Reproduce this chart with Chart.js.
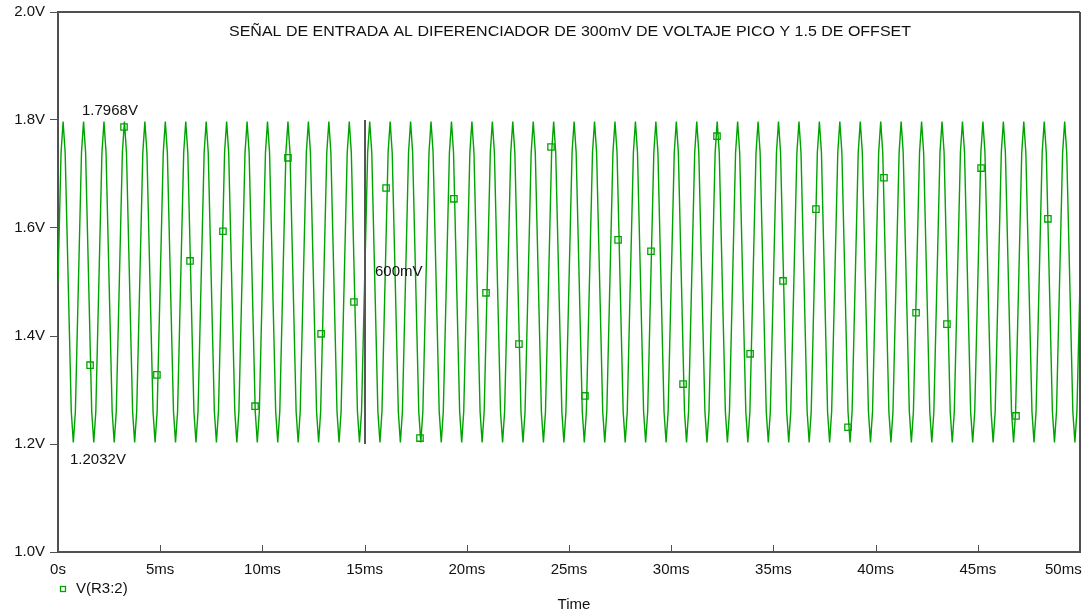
<!DOCTYPE html>
<html>
<head>
<meta charset="utf-8">
<script src="https://cdn.jsdelivr.net/npm/chart.js@4"></script>
<style>
  html, body { margin: 0; padding: 0; background: #fff; }
  #chart { display: block; }
</style>
</head>
<body>
<canvas id="chart" width="1086" height="613"></canvas>
<script>
// trace vertices (time in ms, volts)
const traceTime = [
  0,
  0.15, 0.25, 0.35, 0.65, 0.75, 0.85,
  1.15, 1.25, 1.35, 1.65, 1.75, 1.85,
  2.15, 2.25, 2.35, 2.65, 2.75, 2.85,
  3.15, 3.25, 3.35, 3.65, 3.75, 3.85,
  4.15, 4.25, 4.35, 4.65, 4.75, 4.85,
  5.15, 5.25, 5.35, 5.65, 5.75, 5.85,
  6.15, 6.25, 6.35, 6.65, 6.75, 6.85,
  7.15, 7.25, 7.35, 7.65, 7.75, 7.85,
  8.15, 8.25, 8.35, 8.65, 8.75, 8.85,
  9.15, 9.25, 9.35, 9.65, 9.75, 9.85,
  10.15, 10.25, 10.35, 10.65, 10.75, 10.85,
  11.15, 11.25, 11.35, 11.65, 11.75, 11.85,
  12.15, 12.25, 12.35, 12.65, 12.75, 12.85,
  13.15, 13.25, 13.35, 13.65, 13.75, 13.85,
  14.15, 14.25, 14.35, 14.65, 14.75, 14.85,
  15.15, 15.25, 15.35, 15.65, 15.75, 15.85,
  16.15, 16.25, 16.35, 16.65, 16.75, 16.85,
  17.15, 17.25, 17.35, 17.65, 17.75, 17.85,
  18.15, 18.25, 18.35, 18.65, 18.75, 18.85,
  19.15, 19.25, 19.35, 19.65, 19.75, 19.85,
  20.15, 20.25, 20.35, 20.65, 20.75, 20.85,
  21.15, 21.25, 21.35, 21.65, 21.75, 21.85,
  22.15, 22.25, 22.35, 22.65, 22.75, 22.85,
  23.15, 23.25, 23.35, 23.65, 23.75, 23.85,
  24.15, 24.25, 24.35, 24.65, 24.75, 24.85,
  25.15, 25.25, 25.35, 25.65, 25.75, 25.85,
  26.15, 26.25, 26.35, 26.65, 26.75, 26.85,
  27.15, 27.25, 27.35, 27.65, 27.75, 27.85,
  28.15, 28.25, 28.35, 28.65, 28.75, 28.85,
  29.15, 29.25, 29.35, 29.65, 29.75, 29.85,
  30.15, 30.25, 30.35, 30.65, 30.75, 30.85,
  31.15, 31.25, 31.35, 31.65, 31.75, 31.85,
  32.15, 32.25, 32.35, 32.65, 32.75, 32.85,
  33.15, 33.25, 33.35, 33.65, 33.75, 33.85,
  34.15, 34.25, 34.35, 34.65, 34.75, 34.85,
  35.15, 35.25, 35.35, 35.65, 35.75, 35.85,
  36.15, 36.25, 36.35, 36.65, 36.75, 36.85,
  37.15, 37.25, 37.35, 37.65, 37.75, 37.85,
  38.15, 38.25, 38.35, 38.65, 38.75, 38.85,
  39.15, 39.25, 39.35, 39.65, 39.75, 39.85,
  40.15, 40.25, 40.35, 40.65, 40.75, 40.85,
  41.15, 41.25, 41.35, 41.65, 41.75, 41.85,
  42.15, 42.25, 42.35, 42.65, 42.75, 42.85,
  43.15, 43.25, 43.35, 43.65, 43.75, 43.85,
  44.15, 44.25, 44.35, 44.65, 44.75, 44.85,
  45.15, 45.25, 45.35, 45.65, 45.75, 45.85,
  46.15, 46.25, 46.35, 46.65, 46.75, 46.85,
  47.15, 47.25, 47.35, 47.65, 47.75, 47.85,
  48.15, 48.25, 48.35, 48.65, 48.75, 48.85,
  49.15, 49.25, 49.35, 49.65, 49.75, 49.85,
  50
];
const traceVolt = [
  1.5,
  1.74, 1.797, 1.74, 1.26, 1.203, 1.26,
  1.74, 1.797, 1.74, 1.26, 1.203, 1.26,
  1.74, 1.797, 1.74, 1.26, 1.203, 1.26,
  1.74, 1.797, 1.74, 1.26, 1.203, 1.26,
  1.74, 1.797, 1.74, 1.26, 1.203, 1.26,
  1.74, 1.797, 1.74, 1.26, 1.203, 1.26,
  1.74, 1.797, 1.74, 1.26, 1.203, 1.26,
  1.74, 1.797, 1.74, 1.26, 1.203, 1.26,
  1.74, 1.797, 1.74, 1.26, 1.203, 1.26,
  1.74, 1.797, 1.74, 1.26, 1.203, 1.26,
  1.74, 1.797, 1.74, 1.26, 1.203, 1.26,
  1.74, 1.797, 1.74, 1.26, 1.203, 1.26,
  1.74, 1.797, 1.74, 1.26, 1.203, 1.26,
  1.74, 1.797, 1.74, 1.26, 1.203, 1.26,
  1.74, 1.797, 1.74, 1.26, 1.203, 1.26,
  1.74, 1.797, 1.74, 1.26, 1.203, 1.26,
  1.74, 1.797, 1.74, 1.26, 1.203, 1.26,
  1.74, 1.797, 1.74, 1.26, 1.203, 1.26,
  1.74, 1.797, 1.74, 1.26, 1.203, 1.26,
  1.74, 1.797, 1.74, 1.26, 1.203, 1.26,
  1.74, 1.797, 1.74, 1.26, 1.203, 1.26,
  1.74, 1.797, 1.74, 1.26, 1.203, 1.26,
  1.74, 1.797, 1.74, 1.26, 1.203, 1.26,
  1.74, 1.797, 1.74, 1.26, 1.203, 1.26,
  1.74, 1.797, 1.74, 1.26, 1.203, 1.26,
  1.74, 1.797, 1.74, 1.26, 1.203, 1.26,
  1.74, 1.797, 1.74, 1.26, 1.203, 1.26,
  1.74, 1.797, 1.74, 1.26, 1.203, 1.26,
  1.74, 1.797, 1.74, 1.26, 1.203, 1.26,
  1.74, 1.797, 1.74, 1.26, 1.203, 1.26,
  1.74, 1.797, 1.74, 1.26, 1.203, 1.26,
  1.74, 1.797, 1.74, 1.26, 1.203, 1.26,
  1.74, 1.797, 1.74, 1.26, 1.203, 1.26,
  1.74, 1.797, 1.74, 1.26, 1.203, 1.26,
  1.74, 1.797, 1.74, 1.26, 1.203, 1.26,
  1.74, 1.797, 1.74, 1.26, 1.203, 1.26,
  1.74, 1.797, 1.74, 1.26, 1.203, 1.26,
  1.74, 1.797, 1.74, 1.26, 1.203, 1.26,
  1.74, 1.797, 1.74, 1.26, 1.203, 1.26,
  1.74, 1.797, 1.74, 1.26, 1.203, 1.26,
  1.74, 1.797, 1.74, 1.26, 1.203, 1.26,
  1.74, 1.797, 1.74, 1.26, 1.203, 1.26,
  1.74, 1.797, 1.74, 1.26, 1.203, 1.26,
  1.74, 1.797, 1.74, 1.26, 1.203, 1.26,
  1.74, 1.797, 1.74, 1.26, 1.203, 1.26,
  1.74, 1.797, 1.74, 1.26, 1.203, 1.26,
  1.74, 1.797, 1.74, 1.26, 1.203, 1.26,
  1.74, 1.797, 1.74, 1.26, 1.203, 1.26,
  1.74, 1.797, 1.74, 1.26, 1.203, 1.26,
  1.74, 1.797, 1.74, 1.26, 1.203, 1.26,
  1.5
];

// marker symbols along the trace
const markerTime = [1.57, 3.23, 4.84, 6.46, 8.07, 9.64, 11.25, 12.87, 14.48, 16.05,
  17.71, 19.37, 20.94, 22.55, 24.12, 25.78, 27.40, 29.01, 30.58, 32.24,
  33.86, 35.47, 37.08, 38.65, 40.41, 41.98, 43.49, 45.16, 46.87, 48.43];
const markerVolt = [1.346, 1.787, 1.328, 1.539, 1.594, 1.270, 1.730, 1.404, 1.463, 1.674,
  1.211, 1.654, 1.480, 1.385, 1.750, 1.289, 1.578, 1.557, 1.311, 1.770,
  1.367, 1.502, 1.635, 1.231, 1.693, 1.443, 1.422, 1.711, 1.252, 1.617];

const xTicks = [0, 5, 10, 15, 20, 25, 30, 35, 40, 45, 50];
const yTicks = [1.0, 1.2, 1.4, 1.6, 1.8, 2.0];

const title = 'SEÑAL DE ENTRADA AL DIFERENCIADOR DE 300mV DE VOLTAJE PICO Y 1.5 DE OFFSET';
const seriesName = 'V(R3:2)';
const cursorTime = 15.0;
const cursorLabel = '600mV';
const maxLabel = '1.7968V';
const minLabel = '1.2032V';

const GREEN = '#00a400';
const AXIS = '#505050';
const FONT = '"Liberation Sans", Arial, sans-serif';

// extra drawing: frame, inward x ticks, cursor, labels, legend
const extras = {
  id: 'extras',
  afterDatasetsDraw(chart) {
    const { ctx, chartArea: a, scales: { x, y } } = chart;
    ctx.save();
    ctx.strokeStyle = AXIS;
    ctx.lineWidth = 2;
    ctx.beginPath();
    ctx.moveTo(a.left, a.top); ctx.lineTo(a.right, a.top);
    ctx.moveTo(a.right, a.top); ctx.lineTo(a.right, a.bottom);
    ctx.stroke();

    ctx.lineWidth = 1;
    ctx.beginPath();
    xTicks.forEach(t => {
      const px = Math.round(x.getPixelForValue(t)) + 0.5;
      ctx.moveTo(px, a.bottom); ctx.lineTo(px, a.bottom - 7);
    });
    ctx.stroke();

    // cursor line
    const cx = Math.round(x.getPixelForValue(cursorTime));
    ctx.strokeStyle = '#555';
    ctx.lineWidth = 2;
    ctx.beginPath();
    ctx.moveTo(cx, y.getPixelForValue(1.8));
    ctx.lineTo(cx, y.getPixelForValue(1.2));
    ctx.stroke();

    ctx.fillStyle = '#111';
    ctx.font = '15px ' + FONT;
    ctx.textBaseline = 'middle';
    ctx.textAlign = 'left';
    ctx.fillText(cursorLabel, cx + 10, 272);
    ctx.fillText(maxLabel, 82, 111);
    ctx.fillText(minLabel, 70, 460);

    // title, fitted to the reference width
    const tw = ctx.measureText(title).width;
    ctx.save();
    ctx.translate(229, 32);
    ctx.scale(682 / tw, 1);
    ctx.fillText(title, 0, 0);
    ctx.restore();

    // legend
    ctx.strokeStyle = GREEN;
    ctx.lineWidth = 1.3;
    ctx.strokeRect(60.5, 586.5, 5, 5);
    ctx.fillStyle = '#111';
    ctx.fillText(seriesName, 76, 589);

    ctx.textAlign = 'center';
    ctx.fillText('Time', 574, 605);
    ctx.restore();
  }
};

const ctx = document.getElementById('chart');
new Chart(ctx, {
  type: 'line',
  data: {
    datasets: [
      {
        label: seriesName,
        data: traceTime.map((t, i) => ({ x: t, y: traceVolt[i] })),
        borderColor: GREEN,
        borderWidth: 1.4,
        pointRadius: 0,
        tension: 0,
      },
      {
        label: 'markers',
        data: markerTime.map((t, i) => ({ x: t, y: markerVolt[i] })),
        showLine: false,
        pointStyle: 'rect',
        pointRadius: 4.5,
        pointBorderWidth: 1.3,
        pointBorderColor: GREEN,
        pointBackgroundColor: 'rgba(0,0,0,0)',
      },
    ],
  },
  options: {
    responsive: false,
    animation: false,
    devicePixelRatio: 1,
    layout: { padding: { top: 12, right: 6, left: 0, bottom: 0 } },
    plugins: { legend: { display: false }, tooltip: { enabled: false } },
    scales: {
      x: {
        type: 'linear',
        min: 0,
        max: 50,
        afterBuildTicks: (s) => { s.ticks = xTicks.map(v => ({ value: v })); },
        afterFit: (s) => { s.height = 61; s.paddingLeft = 0; s.paddingRight = 0; },
        ticks: {
          // last label is pushed left so it stays inside the window
          callback: (v) => (v === 0 ? '0s' : v === 50 ? '50ms' + '\u00a0'.repeat(8) : v + 'ms'),
          color: '#111',
          font: { family: FONT, size: 15 },
          padding: 9,
          maxRotation: 0,
          autoSkip: false,
        },
        grid: { drawOnChartArea: false, drawTicks: false },
        border: { color: AXIS, width: 2 },
      },
      y: {
        min: 1,
        max: 2,
        afterBuildTicks: (s) => { s.ticks = yTicks.map(v => ({ value: v })); },
        afterFit: (s) => { s.width = 58; s.paddingTop = 0; s.paddingBottom = 0; },
        ticks: {
          callback: (v) => v.toFixed(1) + 'V',
          color: '#111',
          font: { family: FONT, size: 15 },
          padding: 5,
        },
        grid: { drawOnChartArea: false, drawTicks: true, tickLength: 8, color: AXIS },
        border: { color: AXIS, width: 2 },
      },
    },
  },
  plugins: [extras],
});
</script>
</body>
</html>
